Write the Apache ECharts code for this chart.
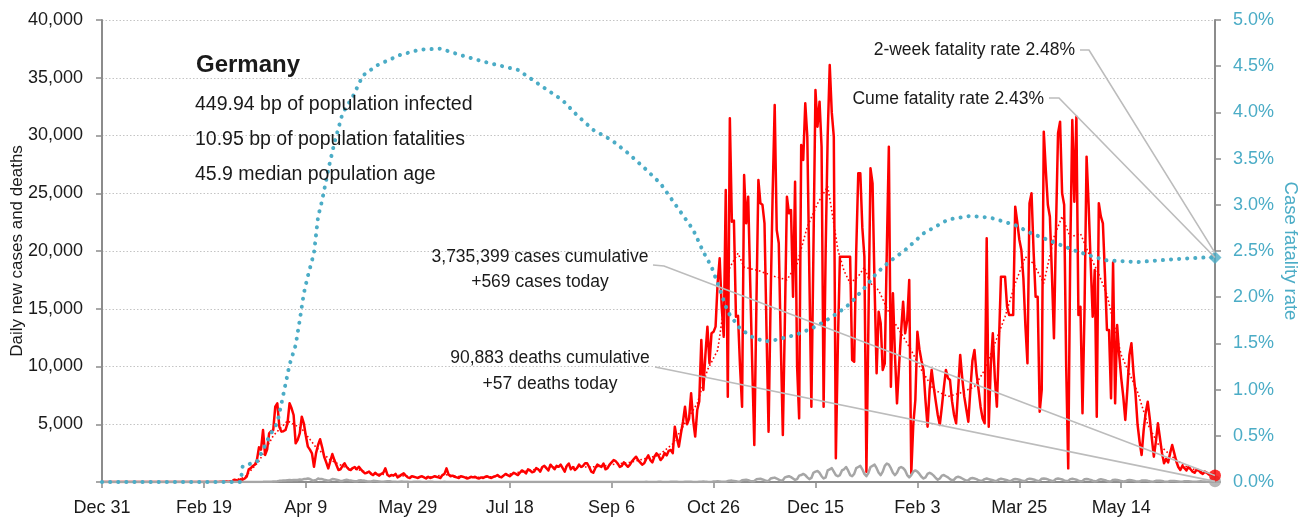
<!DOCTYPE html>
<html>
<head>
<meta charset="utf-8">
<title>Germany - daily cases, deaths and fatality rate</title>
<script src="https://cdn.jsdelivr.net/npm/echarts@6/dist/echarts.min.js"></script>
<style>
    body{margin:0;background:#fff;}
    #main{width:1299px;height:523px;}
</style>
</head>
<body>
<div id="main"></div>
<script>
// day number 0 = Dec 31, 2019
var xTickDays = [0, 50, 100, 150, 200, 250, 300, 350, 400, 450, 500];
var xTickLabels = ['Dec 31', 'Feb 19', 'Apr 9', 'May 29', 'Jul 18', 'Sep 6', 'Oct 26', 'Dec 15', 'Feb 3', 'Mar 25', 'May 14'];

// daily new cases, one value per day, 7 per row
var dailyCases = [
    0,0,0,0,0,0,0, 0,0,0,0,0,0,0, 0,0,0,0,0,0,0, 0,0,0,0,0,0,0,
    1,3,0,0,3,1,0,
    1,0,1,0,0,0,0,
    2,0,0,0,0,0,0,
    0,0,0,0,0,0,0,
    0,10,20,20,30,50,30,
    60,100,200,160,120,230,200,
    300,460,1100,1200,1390,1500,1900,
    3000,2800,4500,2340,2800,4220,4400,
    4500,6520,6810,4790,4360,4400,4500,
    5080,6810,6380,5800,3350,3640,4200,
    5650,5080,4000,3060,2800,2480,1320,
    2500,3200,3700,3000,2190,1700,1180,
    1800,2420,1900,1470,1040,1100,1400,
    1620,1300,1100,1040,1200,1300,1100,
    1320,1100,900,750,800,900,700,
    600,800,650,550,700,800,1180,
    630,500,600,550,700,400,500,
    650,750,550,400,350,500,450,
    400,350,450,500,400,300,450,
    350,400,500,450,400,350,600,
    700,1180,650,500,550,450,400,
    350,500,450,400,300,350,450,
    400,450,350,300,400,350,450,
    500,400,350,450,500,600,450,
    400,550,700,600,500,650,800,
    700,600,800,1000,900,750,1100,
    1000,850,900,1200,1100,900,1300,
    1400,1200,1000,1500,1300,1100,1400,
    1320,1500,1200,900,1400,1600,1100,
    1300,1040,1200,1500,1300,1400,1620,
    1620,1300,900,800,1200,1500,1400,
    1300,1600,1100,1200,1500,1700,1900,
    1800,1600,1300,1400,1700,1500,1320,
    1500,1800,2000,2190,1900,1700,1500,
    1620,2000,2300,1900,1700,2200,2480,
    2300,1900,2100,2500,2300,2700,2770,
    2500,4790,3800,3060,4200,5200,6520,
    5000,5500,7680,5370,3930,6230,7000,
    12300,7970,11000,13450,10280,12870,13000,
    13450,17200,19370,15180,12580,25280,7390,
    31490,22540,22630,14310,14390,10000,6520,
    26580,22400,24700,17200,10000,3200,15000,
    26150,24130,24000,22400,13000,4360,15760,
    25000,32640,21820,20670,12000,4070,14000,
    24700,23260,23550,16040,26000,9980,5510,
    29180,27880,32790,29900,18000,6520,20000,
    33940,30760,32930,29030,6520,20000,30000,
    36100,32000,29900,2050,12000,19510,19510,
    19510,19510,19510,19510,10560,10420,20000,
    26730,26730,22000,19510,890,14000,27160,
    25860,17000,9410,14740,13740,9700,10280,
    20000,29030,8250,16340,11000,6810,10000,
    13000,15610,12870,14000,17490,750,5000,
    7100,13010,11500,10500,9700,7000,4790,
    8000,9700,8250,7000,5800,4940,6500,
    8200,9700,9000,8830,7000,5800,5080,
    8000,11000,9000,7390,6300,5220,8000,
    10500,11430,9410,8000,6500,5500,5080,
    21100,4790,10000,12870,9000,6520,12000,
    17780,17780,17780,15180,14460,14460,14460,
    23840,22500,21000,20090,17640,13500,10280,
    24130,25000,20000,16040,16040,6090,7970,
    30330,27000,24000,22970,18000,12440,22000,
    30190,31200,25000,24000,10000,1180,20000,
    31340,24270,31630,14460,15180,5950,15000,
    28170,24000,19000,14310,18350,5650,24130,
    23000,22400,18000,13160,13160,7250,19000,
    6810,13590,11000,9000,7390,5370,8000,
    11000,12010,9500,7680,5000,3500,2340,
    4500,6000,6950,5500,3800,2190,3500,
    5080,3800,2500,1620,2000,1700,2500,
    3200,2500,1800,1300,1040,1400,1200,
    1000,1300,1100,900,800,1100,1000,
    800,700,900,800,650,700,600,
    569
];

// daily deaths, same days
var dailyDeaths = [
    0,0,0,0,0,0,0, 0,0,0,0,0,0,0, 0,0,0,0,0,0,0, 0,0,0,0,0,0,0, 0,0,0,0,0,0,0,
    0,0,0,0,0,0,0, 0,0,0,0,0,0,0, 0,0,0,0,0,0,0, 0,0,0,0,0,0,0,
    0,0,0,0,0,0,2,
    0,1,1,1,2,4,3,
    4,8,11,20,20,30,30,
    47,50,60,100,110,140,130,
    150,170,150,170,180,180,220,
    200,250,260,300,260,160,140,
    180,300,250,250,190,150,110,
    160,260,230,200,160,80,90,
    160,200,160,140,100,60,60,
    130,150,120,100,60,40,50,
    100,90,70,50,30,20,40,
    60,60,40,30,20,10,30,
    40,30,30,20,10,5,20,
    30,20,20,10,5,3,15,
    20,15,10,8,3,2,10,
    15,10,8,5,2,2,8,
    8,6,5,3,1,1,6, 8,6,5,3,1,1,6, 8,6,5,3,1,1,6, 8,6,5,3,1,1,6,
    8,6,5,3,1,1,6, 8,6,5,3,1,1,6, 8,6,5,3,1,1,6, 8,6,5,3,1,1,6,
    8,6,5,3,1,1,6, 8,6,5,3,1,1,6, 8,6,5,3,1,1,6, 8,6,5,3,1,1,6,
    8,6,5,3,1,1,6,
    10,12,8,5,2,2,10,
    12,14,10,6,3,3,12,
    15,16,12,8,4,4,15,
    20,25,18,10,5,6,25,
    30,35,28,15,8,10,40,
    50,60,45,25,15,20,80,
    100,120,90,60,30,40,150,
    180,200,160,100,60,80,230,
    260,280,220,150,90,110,300,
    350,380,300,200,120,150,400,
    450,500,420,300,180,250,550,
    600,700,600,400,250,350,800,
    900,950,800,500,300,400,1000,
    1100,1200,900,600,500,600,1000,
    1100,1300,1000,600,500,700,1200,
    1300,1400,1100,700,500,800,1300,
    1400,1500,1200,800,600,900,1400,
    1600,1500,1200,800,600,800,1200,
    1300,1200,1000,600,400,600,900,
    1000,900,700,450,300,400,700,
    800,700,550,350,200,300,550,
    600,500,400,250,150,200,400,
    450,400,300,200,120,150,300,
    350,300,250,150,100,120,250,
    300,250,200,150,90,110,230,
    280,250,200,150,80,100,220,
    260,240,200,130,80,100,250,
    290,260,220,150,90,120,280,
    300,280,230,150,90,110,270,
    300,270,220,140,80,100,250,
    280,250,200,120,70,90,230,
    260,230,180,110,60,80,200,
    230,200,160,90,50,70,180,
    200,180,140,80,40,60,150,
    170,150,120,70,35,50,120,
    140,120,100,60,30,40,100,
    110,100,80,50,25,30,80,
    90,80,60,40,20,25,60,
    70,60,50,30,15,20,50,
    60,50,40,25,10,15,40,
    57
];

// smoothed daily cases (red dotted), read at these days
var avgDays  = [0, 56, 63, 70, 77, 84, 91, 98, 105, 112, 119, 126, 133, 140, 147, 154, 161, 168, 175, 182, 189, 196, 203, 210, 217, 224, 231, 238, 245, 252, 259, 266, 273, 280, 287, 292, 297, 302, 305, 308, 312, 315, 322, 330, 336, 341, 346, 351, 356, 358, 361, 364, 367, 371, 374, 377, 381, 387, 392, 397, 402, 408, 415, 421, 428, 433, 438, 443, 448, 453, 457, 462, 467, 471, 475, 480, 484, 489, 493, 500, 505, 508, 513, 518, 525, 531, 537, 543, 546];
var avgCases = [0, 0, 60, 400, 1800, 4000, 5300, 4600, 3000, 1900, 1300, 1050, 700, 650, 550, 420, 430, 640, 470, 380, 430, 520, 800, 1000, 1250, 1300, 1300, 1300, 1350, 1550, 1700, 2000, 2300, 3300, 5400, 6800, 9700, 11400, 15000, 18600, 19800, 18600, 18300, 17800, 17500, 18900, 22100, 24100, 25600, 23500, 20100, 18300, 17200, 17800, 18600, 17200, 16600, 14300, 12900, 11400, 9700, 8000, 7400, 7700, 8250, 9700, 12000, 14300, 17200, 19500, 18900, 17200, 21200, 23000, 21200, 21500, 19800, 18000, 16200, 11000, 9000, 7800, 5000, 3300, 2200, 1400, 1000, 750, 650];

// case fatality rate in percent (blue dotted, right axis)
var cfrDays = [0, 68, 69, 73, 76, 79, 82, 86, 89, 92, 95, 97, 99, 101, 104, 106, 108, 111, 114, 118, 123, 128, 135, 146, 156, 166, 176, 187, 204, 226, 233, 241, 250, 258, 266, 274, 282, 290, 295, 299, 302, 307, 313, 319, 325, 331, 340, 348, 354, 361, 367, 374, 380, 386, 394, 403, 415, 426, 436, 448, 456, 464, 472, 479, 482, 492, 508, 525, 541, 546];
var cfrRate = [0, 0, 0.17, 0.2, 0.22, 0.35, 0.49, 0.64, 0.95, 1.27, 1.48, 1.75, 2.04, 2.23, 2.48, 2.87, 3.05, 3.38, 3.67, 3.99, 4.17, 4.40, 4.51, 4.62, 4.68, 4.69, 4.62, 4.55, 4.46, 4.13, 3.97, 3.81, 3.70, 3.56, 3.40, 3.23, 2.98, 2.73, 2.49, 2.33, 2.15, 1.84, 1.66, 1.57, 1.52, 1.54, 1.59, 1.66, 1.73, 1.83, 1.93, 2.10, 2.26, 2.38, 2.51, 2.69, 2.84, 2.88, 2.86, 2.78, 2.69, 2.62, 2.55, 2.49, 2.47, 2.40, 2.38, 2.41, 2.43, 2.43];

var twoWeekRate = 2.48;
var headLines = ['449.94 bp of population infected', '10.95 bp of population fatalities', '45.9 median population age'];
var casesNote = ['3,735,399 cases cumulative', '+569 cases today'];
var deathsNote = ['90,883 deaths cumulative', '+57 deaths today'];
var twoWeekNote = '2-week fatality rate 2.48%';
var cumeNote = 'Cume fatality rate 2.43%';

var FONT = '"Liberation Sans", Arial, sans-serif';
var RED = '#ff0000', BLUE = '#4bacc6', GREY = '#a6a6a6', AXIS = '#8c8c8c', LEAD = '#bcbcbc';

function pairs(xs, ys){ return xs.map(function(x, i){ return [x, ys[i]]; }); }
var last = dailyCases.length - 1;

var myChart = echarts.init(document.getElementById('main'));

function txt(x, y, text, size, align, extra){
    var st = {text: text, fontFamily: FONT, fontSize: size, fill: '#1a1a1a',
        textAlign: align, align: align, textVerticalAlign: 'middle', verticalAlign: 'middle'};
    if (extra) for (var k in extra) st[k] = extra[k];
    return {type: 'text', x: x, y: y, z: 50, silent: true, style: st};
}

var texts = [
    txt(196, 65, 'Germany', 24, 'left', {fontWeight: 'bold'}),
    txt(195, 105, headLines[0], 19.5, 'left'),
    txt(195, 140, headLines[1], 19.5, 'left'),
    txt(195, 175, headLines[2], 19.5, 'left'),
    txt(1075, 50, twoWeekNote, 17.5, 'right'),
    txt(1044, 99, cumeNote, 17.5, 'right'),
    txt(540, 257, casesNote[0], 17.5, 'center'),
    txt(540, 282, casesNote[1], 17.5, 'center'),
    txt(550, 358, deathsNote[0], 17.5, 'center'),
    txt(550, 384, deathsNote[1], 17.5, 'center')
];

var option = {
    animation: false,
    backgroundColor: '#fff',
    grid: {left: 102, right: 84, top: 20, bottom: 41, containLabel: false, outerBoundsMode: 'none'},
    xAxis: {
        type: 'value', min: 0, max: last, interval: 50,
        axisLine: {show: true, lineStyle: {color: AXIS, width: 2}},
        axisTick: {show: true, length: 6, lineStyle: {color: AXIS, width: 1.5}, customValues: xTickDays},
        axisLabel: {
            customValues: xTickDays, margin: 17,
            fontFamily: FONT, fontSize: 18, color: '#1a1a1a',
            formatter: function(v){ var i = xTickDays.indexOf(v); return i < 0 ? '' : xTickLabels[i]; }
        },
        splitLine: {show: false}
    },
    yAxis: [{
        type: 'value', min: 0, max: 40000, interval: 5000,
        name: 'Daily new cases and deaths', nameLocation: 'middle', nameGap: 76, nameRotate: 90,
        nameMoveOverlap: false,
        nameTextStyle: {fontFamily: FONT, fontSize: 17, color: '#1a1a1a'},
        axisLine: {show: true, lineStyle: {color: AXIS, width: 2}},
        axisTick: {show: true, length: 6, lineStyle: {color: AXIS, width: 1.5}},
        axisLabel: {margin: 19, fontFamily: FONT, fontSize: 18, color: '#1a1a1a',
            formatter: function(v){ return v === 0 ? '' : v.toLocaleString('en-US'); }},
        splitLine: {show: true, lineStyle: {color: '#c4c4c4', width: 1, type: [1.5, 2]}}
    }, {
        type: 'value', min: 0, max: 5, interval: 0.5, position: 'right',
        name: 'Case fatality rate', nameLocation: 'middle', nameGap: 66, nameRotate: -90,
        nameMoveOverlap: false,
        nameTextStyle: {fontFamily: FONT, fontSize: 18.5, color: BLUE},
        axisLine: {show: true, lineStyle: {color: AXIS, width: 2}},
        axisTick: {show: true, length: 6, lineStyle: {color: AXIS, width: 1.5}},
        axisLabel: {margin: 18, fontFamily: FONT, fontSize: 18, color: BLUE,
            formatter: function(v){ return v.toFixed(1) + '%'; }},
        splitLine: {show: false}
    }],
    series: [{
        name: 'cases', type: 'line', data: pairs(dailyCases.map(function(v, i){ return i; }), dailyCases),
        showSymbol: false, silent: true, z: 2,
        lineStyle: {color: RED, width: 2.5, join: 'round'}
    }, {
        name: 'cases average', type: 'line', data: pairs(avgDays, avgCases),
        showSymbol: false, silent: true, z: 3,
        lineStyle: {color: RED, width: 1.6, type: [1.6, 2.4]}
    }, {
        name: 'deaths', type: 'line', data: pairs(dailyDeaths.map(function(v, i){ return i; }), dailyDeaths),
        showSymbol: false, silent: true, z: 4,
        lineStyle: {color: GREY, width: 2.5, join: 'round'}
    }, {
        name: 'fatality rate', type: 'line', yAxisIndex: 1, data: pairs(cfrDays, cfrRate),
        showSymbol: false, silent: true, z: 5,
        lineStyle: {color: BLUE, width: 4, type: [0.1, 8], cap: 'round'}
    }, {
        type: 'scatter', silent: true, z: 8, symbol: 'circle', symbolSize: 12,
        itemStyle: {color: RED}, data: [[last, dailyCases[last]]]
    }, {
        type: 'scatter', silent: true, z: 7, symbol: 'circle', symbolSize: 12,
        itemStyle: {color: GREY}, data: [[last, dailyDeaths[last]]]
    }, {
        type: 'scatter', yAxisIndex: 1, silent: true, z: 8, symbol: 'diamond', symbolSize: 13,
        itemStyle: {color: BLUE}, data: [[cfrDays[cfrDays.length - 1], cfrRate[cfrRate.length - 1]]]
    }],
    graphic: texts
};

myChart.setOption(option);

// leader lines from the notes to the last data points
var endCases = myChart.convertToPixel({seriesIndex: 0}, [last, dailyCases[last]]);
var endDeaths = myChart.convertToPixel({seriesIndex: 2}, [last, dailyDeaths[last]]);
var endCume = myChart.convertToPixel({seriesIndex: 3}, [last, cfrRate[cfrRate.length - 1]]);
var endTwoWeek = myChart.convertToPixel({seriesIndex: 3}, [last, twoWeekRate]);

function lead(points){
    return {type: 'polyline', z: 40, silent: true, shape: {points: points},
        style: {stroke: LEAD, lineWidth: 1.6, fill: null}};
}
myChart.setOption({graphic: texts.concat([
    lead([[1080, 50], [1089, 50], endTwoWeek]),
    lead([[1049, 98], [1059, 98], endCume]),
    lead([[653, 265], [664, 266], endCases]),
    lead([[655, 367], [665, 369], endDeaths])
])});
</script>
</body>
</html>
